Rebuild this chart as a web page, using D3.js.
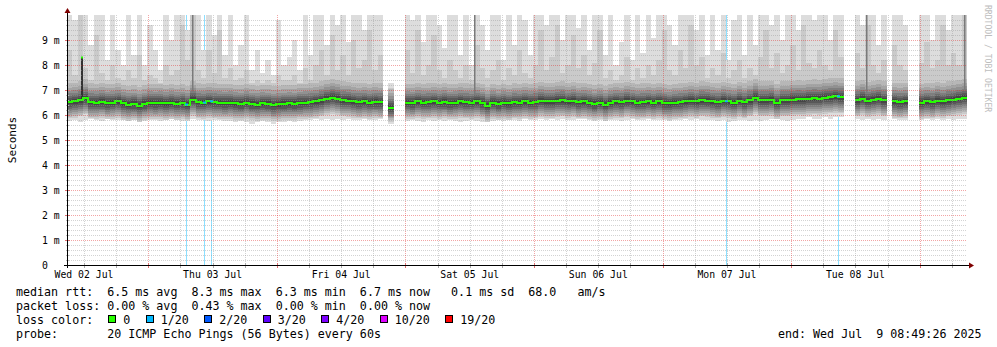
<!DOCTYPE html>
<html>
<head>
<meta charset="utf-8">
<script src="https://cdn.jsdelivr.net/npm/d3@7"></script>
<style>
  html, body { margin: 0; padding: 0; background: #fff; }
  svg text { font-family: "DejaVu Sans Mono", monospace; white-space: pre; }
</style>
</head>
<body>
<svg id="chart" width="997" height="347"></svg>
<script>
// ---- time window (one sample per hour) ----
const startTime = "2025-07-02T08:49:26Z";
const endTime   = "2025-07-09T08:49:26Z";

// median round-trip time per hour, ms (null = no data)
const rttMedian = [
  6.52, 6.55, 6.6, 6.68, 6.52, 6.5, 6.53, 6.48, 6.5, 6.55,
  6.47, 6.42, 6.45, 6.38, 6.45, 6.5, 6.48, 6.5, 6.47, 6.5,
  6.46, 6.48, 6.42, 6.62, 6.52, 6.5, 6.55, 6.52, 6.5, 6.48,
  6.5, 6.47, 6.45, 6.5, 6.45, 6.42, 6.47, 6.45, 6.4, 6.43,
  6.45, 6.47, 6.45, 6.48, 6.5, 6.52, 6.55, 6.6, 6.65, 6.7,
  6.66, 6.6, 6.58, 6.55, 6.52, 6.55, 6.5, 6.53, 6.52, null,
  6.3, null, null, 6.5, 6.48, 6.55, 6.5, 6.52, 6.55, 6.5,
  6.53, 6.48, 6.5, 6.55, 6.52, 6.5, 6.55, 6.48, 6.38, 6.5,
  6.45, 6.5, 6.47, 6.52, 6.5, 6.55, 6.5, 6.52, 6.58, 6.55,
  6.55, 6.58, 6.6, 6.55, 6.57, 6.52, 6.55, 6.5, 6.45, 6.5,
  6.42, 6.5, 6.55, 6.52, 6.57, 6.55, 6.5, 6.52, 6.55, 6.5,
  6.55, 6.48, 6.47, 6.5, 6.52, 6.55, 6.58, 6.55, 6.6, 6.57,
  6.55, 6.52, 6.57, 6.55, 6.5, 6.58, 6.52, 6.6, 6.7, 6.6,
  6.6, 6.62, 6.5, 6.6, 6.6, 6.62, 6.64, 6.63, 6.66, 6.68,
  6.66, 6.7, 6.72, 6.75, 6.72, null, null, 6.6, 6.65, 6.58,
  6.62, 6.65, 6.6, null, 6.55, 6.52, 6.55, null, null, 6.5,
  6.55, 6.52, 6.58, 6.55, 6.6, 6.62, 6.65, 6.7
];

// fastest ping of each hour, ms
const rttMin = [
  5.75, 5.8, 5.7, 5.8, 5.85, 5.8, 5.75, 5.85, 5.8, 5.8,
  5.8, 5.75, 5.8, 5.7, 5.75, 5.8, 5.8, 5.75, 5.8, 5.85,
  5.8, 5.75, 5.8, 5.85, 5.8, 5.8, 5.75, 5.8, 5.8, 5.75,
  5.75, 5.7, 5.75, 5.7, 5.65, 5.7, 5.75, 5.7, 5.65, 5.7,
  5.7, 5.75, 5.7, 5.75, 5.8, 5.8, 5.85, 5.8, 5.85, 5.8,
  5.85, 5.8, 5.85, 5.8, 5.8, 5.85, 5.8, 5.8, 5.85, null,
  5.9, null, null, 5.75, 5.8, 5.75, 5.7, 5.8, 5.75, 5.8,
  5.75, 5.8, 5.75, 5.7, 5.75, 5.8, 5.75, 5.7, 5.7, 5.75,
  5.8, 5.75, 5.8, 5.8, 5.75, 5.85, 5.8, 5.8, 5.85, 5.8,
  5.85, 5.8, 5.85, 5.8, 5.8, 5.85, 5.85, 5.8, 5.75, 5.8,
  5.75, 5.8, 5.8, 5.75, 5.8, 5.85, 5.8, 5.8, 5.85, 5.8,
  5.8, 5.8, 5.75, 5.8, 5.8, 5.85, 5.8, 5.85, 5.8, 5.8,
  5.8, 5.75, 5.8, 5.7, 5.75, 5.8, 5.8, 5.75, 5.8, 5.75,
  5.8, 5.85, 5.85, 5.8, 5.75, 5.8, 5.85, 5.85, 5.9, 5.85,
  5.85, 5.9, 5.85, 5.9, 5.9, null, null, 5.85, 5.8, 5.85,
  5.8, 5.85, 5.8, null, 5.85, 5.8, 5.8, null, null, 5.8,
  5.85, 5.8, 5.85, 5.8, 5.85, 5.8, 5.85, 5.85
];

// second-slowest ping of each hour, ms
const rttHigh = [
  8.6, 7.6, 10.5, 7.9, 7.4, 9.2, 7.7, 7.4, 8.0, 7.5,
  7.4, 7.8, 7.5, 8.4, 7.4, 7.6, 7.5, 7.3, 8.0, 7.6,
  7.8, 9.6, 8.2, 10.5, 7.8, 7.5, 8.6, 7.7, 9.4, 7.5,
  7.9, 7.4, 7.5, 7.8, 7.3, 7.4, 7.3, 7.4, 7.3, 7.6,
  7.4, 7.4, 7.6, 7.3, 7.9, 7.4, 8.0, 8.6, 7.6, 9.2,
  7.8, 8.4, 7.6, 9.0, 7.9, 8.2, 9.4, 7.8, 8.4, null,
  7.1, null, null, 8.6, 7.7, 9.4, 7.6, 8.0, 9.2, 7.8,
  7.5, 8.2, 7.8, 7.5, 8.0, 7.4, 8.8, 7.9, 7.5, 7.8,
  8.2, 7.4, 7.9, 7.6, 8.6, 7.7, 7.5, 8.0, 9.4, 7.8,
  8.3, 9.6, 7.7, 8.0, 9.2, 7.9, 8.4, 7.6, 8.1, 9.4,
  7.5, 7.8, 7.4, 7.6, 8.3, 7.4, 7.9, 7.5, 8.0, 7.6,
  8.2, 9.4, 7.8, 7.6, 8.6, 7.9, 9.6, 8.0, 8.3, 7.5,
  7.9, 7.6, 8.5, 7.5, 7.8, 8.2, 7.5, 7.9, 7.6, 8.3,
  9.4, 7.9, 8.5, 7.7, 8.0, 8.8, 7.8, 9.6, 8.1, 7.9,
  8.6, 8.0, 7.8, 9.4, 8.3, null, null, 8.5, 7.9, 9.6,
  8.0, 7.7, 8.2, null, 8.8, 8.0, 7.8, null, null, 8.1,
  8.9, 7.9, 8.2, 9.6, 8.0, 8.5, 8.0, 10.5
];

// slowest ping of each hour, ms
const rttMax = [
  10.5, 9.8, 10.5, 10.5, 8.8, 10.5, 10.5, 8.2, 10.5, 8.6,
  8.0, 10.5, 8.4, 10.5, 8.0, 9.6, 8.6, 7.8, 10.5, 9.0,
  10.5, 10.5, 9.4, 10.5, 10.5, 8.6, 10.5, 9.2, 10.5, 8.4,
  10.5, 8.0, 8.8, 10.5, 7.8, 8.6, 7.7, 8.2, 7.6, 9.8,
  8.0, 8.3, 9.0, 7.8, 10.5, 8.4, 10.5, 10.5, 8.8, 10.5,
  9.6, 10.5, 8.9, 10.5, 10.5, 9.4, 10.5, 10.5, 10.5, null,
  7.3, null, null, 10.5, 9.8, 10.5, 8.9, 10.5, 10.5, 9.6,
  8.7, 10.5, 10.5, 8.4, 10.5, 8.0, 10.5, 9.6, 8.6, 10.5,
  10.5, 8.2, 10.5, 8.8, 10.5, 9.8, 8.4, 10.5, 10.5, 9.6,
  10.5, 10.5, 9.0, 10.5, 10.5, 9.5, 10.5, 8.6, 10.5, 10.5,
  8.4, 10.5, 8.0, 8.9, 10.5, 8.2, 10.5, 8.5, 10.5, 9.1,
  10.5, 10.5, 9.6, 8.8, 10.5, 10.5, 10.5, 9.4, 10.5, 8.4,
  10.5, 8.6, 10.5, 8.2, 9.8, 10.5, 8.4, 10.5, 8.8, 10.5,
  10.5, 9.6, 10.5, 9.0, 10.5, 10.5, 9.4, 10.5, 10.5, 9.8,
  10.5, 10.5, 9.0, 10.5, 10.5, null, null, 10.5, 9.6, 10.5,
  10.5, 8.8, 10.5, null, 10.5, 10.5, 9.6, null, null, 10.5,
  10.5, 9.0, 10.5, 10.5, 9.4, 10.5, 10.5, 10.5
];

// remaining pings (2nd..18th) of a typical round, ms from the median
const innerPingOffsets = [-0.65, -0.58, -0.5, -0.43, -0.35, -0.27, -0.19, -0.1, -0.03,
                          0.03, 0.1, 0.18, 0.26, 0.35, 0.45, 0.58, 0.75];

// short rounds where the median itself jumped
const spikeTimes    = ["2025-07-02T11:26:00Z"];
const spikeMedianMs = [8.3];
// short rounds where most upper pings were slow
const streakTimes   = ["2025-07-03T08:09:00Z", "2025-07-05T12:47:00Z", "2025-07-08T13:58:00Z", "2025-07-09T08:16:00Z"];
const streakTopMs   = [10.5, 10.5, 10.5, 10.5];

// rounds with packet loss (lost pings out of 20)
const lossTimes = ["2025-07-03T06:59:00Z", "2025-07-03T10:23:00Z", "2025-07-03T11:42:00Z",
                   "2025-07-07T11:50:00Z", "2025-07-08T08:44:00Z"];
const lossCount = [1, 1, 1, 1, 1];

// loss colour legend
const lossLevels = [0, 1, 2, 3, 4, 10, 19];
const lossLabels = ["0", "1/20", "2/20", "3/20", "4/20", "10/20", "19/20"];
const lossColors = ["#26ff00", "#00b8ff", "#0059ff", "#5e00ff", "#7e00ff", "#dd00ff", "#ff0000"];

// y axis
const yTickValues = [0, 1, 2, 3, 4, 5, 6, 7, 8, 9];
const yTickLabels = ["0", "1 m", "2 m", "3 m", "4 m", "5 m", "6 m", "7 m", "8 m", "9 m"];

// legend text rows
const legendRows = [
  "median rtt:  6.5 ms avg  8.3 ms max  6.3 ms min  6.7 ms now   0.1 ms sd  68.0   am/s",
  "packet loss: 0.00 % avg  0.43 % max  0.00 % min  0.00 % now",
  "loss color:",
  "probe:       20 ICMP Echo Pings (56 Bytes) every 60s"
];
const endLabel = "end: Wed Jul  9 08:49:26 2025";
const yTitle = "Seconds";
const watermark = "RRDTOOL / TOBI OETIKER";

// ---------------------------------------------------------------
const HOUR = 3600e3;
const t0 = new Date(startTime), t1 = new Date(endTime);
const hourTime = i => new Date(t0.getTime() + i * HOUR);

const X0 = 67, X1 = 967, Y0 = 265, Y1 = 15;
const x = d3.scaleUtc().domain([t0, t1]).range([X0, X1]);
const y = d3.scaleLinear().domain([0, 10]).range([Y0, Y1]);

const svg = d3.select("#chart");
svg.append("rect").attr("width", 997).attr("height", 347).attr("fill", "#fff");

svg.append("defs").append("clipPath").attr("id", "plotClip")
  .append("rect").attr("x", X0).attr("y", Y1).attr("width", X1 - X0).attr("height", Y0 - Y1);
const plot = svg.append("g").attr("clip-path", "url(#plotClip)");

const lossColor = c => lossColors[lossLevels.findIndex(l => l >= c)];

// loss background bars (full height, pale)
plot.append("g").selectAll("rect").data(lossTimes.map((t, i) => ({t: new Date(t), c: lossCount[i]})))
  .join("rect")
  .attr("x", d => Math.round(x(d.t)))
  .attr("y", Y1).attr("width", 1).attr("height", Y0 - Y1)
  .attr("fill", d => lossColor(d.c)).attr("fill-opacity", 0.45);

// smoke: 10 nested bands, pings i .. 21-i, darker towards the median
const shade = k => { const v = Math.floor(190 / 10 * (9 - k)) + 50; return `rgb(${v},${v},${v})`; };
const cells = [];
rttMedian.forEach((m, i) => {
  if (m == null) return;
  const pings = [rttMin[i], ...innerPingOffsets.map(o => m + o), rttHigh[i], Math.max(rttHigh[i], rttMax[i])];
  pings.sort((a, b) => a - b);
  const xa = Math.round(x(hourTime(i))), xb = Math.round(x(hourTime(i + 1)));
  for (let k = 0; k < 10; k++) {
    const ya = Math.round(y(pings[19 - k])), yb = Math.round(y(pings[k]));
    cells.push({x: xa, w: xb - xa, y: ya, h: Math.max(1, yb - ya), k});
  }
});
plot.append("g").attr("shape-rendering", "crispEdges").selectAll("rect").data(cells).join("rect")
  .attr("x", d => d.x).attr("y", d => d.y).attr("width", d => d.w).attr("height", d => d.h)
  .attr("fill", d => shade(d.k));

const medianAt = t => rttMedian[Math.floor((t - t0) / HOUR)];

// slow-ping streaks
plot.append("g").selectAll("rect").data(streakTimes.map((t, i) => ({t: new Date(t), top: streakTopMs[i]})))
  .join("rect")
  .attr("x", d => Math.round(x(d.t)))
  .attr("y", d => y(d.top))
  .attr("width", 1.5)
  .attr("height", d => y(medianAt(d.t) + 0.3) - y(d.top))
  .attr("fill", "#7a7a7a");

// median spikes
const spikes = spikeTimes.map((t, i) => ({t: new Date(t), v: spikeMedianMs[i]}));
plot.append("g").selectAll("rect").data(spikes).join("rect")
  .attr("x", d => Math.round(x(d.t))).attr("y", d => y(d.v))
  .attr("width", 2).attr("height", d => y(medianAt(d.t)) - y(d.v))
  .attr("fill", "#323232");

// median line, stepped per hour, broken at gaps
const medPts = [];
rttMedian.forEach((v, i) => {
  medPts.push({t: hourTime(i), v});
  if (v != null && (i === rttMedian.length - 1 || rttMedian[i + 1] == null)) medPts.push({t: hourTime(i + 1), v});
});
plot.append("path").datum(medPts)
  .attr("d", d3.line().defined(d => d.v != null).x(d => x(d.t)).y(d => y(d.v)).curve(d3.curveStepAfter))
  .attr("fill", "none").attr("stroke", lossColors[0]).attr("stroke-width", 2)
  .attr("shape-rendering", "crispEdges");

plot.append("g").selectAll("rect").data(spikes).join("rect")
  .attr("x", d => Math.round(x(d.t))).attr("y", d => y(d.v) - 1)
  .attr("width", 2).attr("height", 2).attr("fill", lossColors[0]);

// median points that carried loss
plot.append("g").selectAll("rect").data(lossTimes.map((t, i) => ({t: new Date(t), c: lossCount[i]})))
  .join("rect")
  .attr("x", d => Math.round(x(d.t)) - 1).attr("y", d => y(medianAt(d.t)) - 1)
  .attr("width", 3).attr("height", 2).attr("fill", d => lossColor(d.c));

// ---- grid (drawn over the data) ----
const minorCol = "rgba(150,150,150,0.42)", majorCol = "rgba(225,40,40,0.42)";
const grid = svg.append("g").attr("shape-rendering", "crispEdges");
const yMinor = d3.range(1, 50).map(i => i / 5).filter(v => Math.abs(v - Math.round(v)) > 1e-6);
const yMajor = yTickValues.filter(v => v > 0);
grid.selectAll(".ym").data(yMinor).join("line")
  .attr("x1", X0).attr("x2", X1).attr("y1", d => Math.round(y(d)) + 0.5).attr("y2", d => Math.round(y(d)) + 0.5)
  .attr("stroke", minorCol).attr("stroke-dasharray", "1,1");
grid.selectAll(".yM").data(yMajor).join("line")
  .attr("x1", X0).attr("x2", X1).attr("y1", d => Math.round(y(d)) + 0.5).attr("y2", d => Math.round(y(d)) + 0.5)
  .attr("stroke", majorCol).attr("stroke-dasharray", "1,1");

const days = d3.utcDay.range(t0, t1);
const sixHours = d3.utcHour.every(6).range(t0, t1).filter(t => t.getUTCHours() !== 0);
grid.selectAll(".xm").data(sixHours).join("line")
  .attr("x1", d => Math.round(x(d)) + 0.5).attr("x2", d => Math.round(x(d)) + 0.5)
  .attr("y1", Y1).attr("y2", Y0)
  .attr("stroke", minorCol).attr("stroke-dasharray", "1,1");
grid.selectAll(".xM").data(days).join("line")
  .attr("x1", d => Math.round(x(d)) + 0.5).attr("x2", d => Math.round(x(d)) + 0.5)
  .attr("y1", Y1).attr("y2", Y0)
  .attr("stroke", majorCol).attr("stroke-dasharray", "1,1");

// ---- axes ----
const ax = svg.append("g").attr("shape-rendering", "crispEdges");
// ticks on the time axis
ax.selectAll(".tx").data(sixHours).join("line")
  .attr("x1", d => Math.round(x(d)) + 0.5).attr("x2", d => Math.round(x(d)) + 0.5)
  .attr("y1", Y0 - 2).attr("y2", Y0 + 3).attr("stroke", "#aaa");
ax.selectAll(".tX").data(days).join("line")
  .attr("x1", d => Math.round(x(d)) + 0.5).attr("x2", d => Math.round(x(d)) + 0.5)
  .attr("y1", Y0 - 2).attr("y2", Y0 + 3).attr("stroke", "#e07070");
// ticks on the value axis
ax.selectAll(".ty").data(yMinor).join("line")
  .attr("x1", X0 - 1).attr("x2", X0 + 2).attr("y1", d => Math.round(y(d)) + 0.5).attr("y2", d => Math.round(y(d)) + 0.5)
  .attr("stroke", "#bbb");
ax.selectAll(".tY").data(yMajor).join("line")
  .attr("x1", X0 - 2).attr("x2", X0 + 3).attr("y1", d => Math.round(y(d)) + 0.5).attr("y2", d => Math.round(y(d)) + 0.5)
  .attr("stroke", "#e07070");

ax.append("line").attr("x1", X0 - 3).attr("x2", X1 + 2).attr("y1", Y0 + 0.5).attr("y2", Y0 + 0.5).attr("stroke", "#000");
ax.append("line").attr("x1", X0 + 0.5).attr("x2", X0 + 0.5).attr("y1", Y0 + 3).attr("y2", Y1 - 2).attr("stroke", "#000");
svg.append("path").attr("d", `M${X1 + 2},${Y0 - 2.5}L${X1 + 7},${Y0 + 0.5}L${X1 + 2},${Y0 + 3.5}Z`).attr("fill", "#7f0000");
svg.append("path").attr("d", `M${X0 - 2.5},${Y1 - 2}L${X0 + 0.5},${Y1 - 7}L${X0 + 3.5},${Y1 - 2}Z`).attr("fill", "#7f0000");

// value labels
svg.append("g").selectAll("text").data(yTickValues).join("text")
  .attr("x", 42).attr("y", d => y(d) + 3.5)
  .attr("font-size", "9.8px").attr("fill", "#000")
  .text((d, i) => yTickLabels[i]);

// day labels at noon
const noons = d3.utcDay.range(d3.utcDay.floor(t0), t1).map(d => d3.utcHour.offset(d, 12)).filter(d => d >= t0 && d <= t1);
svg.append("g").selectAll("text").data(noons).join("text")
  .attr("x", d => x(d)).attr("y", 278).attr("text-anchor", "middle")
  .attr("font-size", "9.8px").attr("fill", "#000")
  .text(d => d3.utcFormat("%a %d %b")(d));

// axis title and watermark
svg.append("text").attr("transform", "translate(15.5,140) rotate(-90)")
  .attr("text-anchor", "middle").attr("font-size", "11px").attr("fill", "#000").text(yTitle);
svg.append("text").attr("transform", "translate(985,5) rotate(90)")
  .attr("font-size", "8.1px").attr("fill", "#bdbdbd").text(watermark);

// ---- legend ----
const LF = "11.66px", CW = 7.02;
svg.append("g").selectAll("text").data(legendRows).join("text")
  .attr("x", 16).attr("y", (d, i) => 295.5 + i * 14)
  .attr("font-size", LF).attr("fill", "#000").text(d => d);

let cursor = 108.3;
const lossItems = lossLabels.map((l, i) => {
  const item = {box: cursor, text: cursor + 15, label: l, color: lossColors[i]};
  cursor = item.text + l.length * CW + 15.4;
  return item;
});
const lg = svg.append("g");
lg.selectAll("rect").data(lossItems).join("rect")
  .attr("x", d => Math.round(d.box) + 0.5).attr("y", 315.5).attr("width", 7).attr("height", 7)
  .attr("fill", d => d.color).attr("stroke", "#000").attr("stroke-width", 1)
  .attr("shape-rendering", "crispEdges");
lg.selectAll("text").data(lossItems).join("text")
  .attr("x", d => d.text).attr("y", 323.5)
  .attr("font-size", LF).attr("fill", "#000").text(d => d.label);

svg.append("text").attr("x", 778).attr("y", 337.5).attr("font-size", LF).attr("fill", "#000").text(endLabel);
</script>
</body>
</html>
